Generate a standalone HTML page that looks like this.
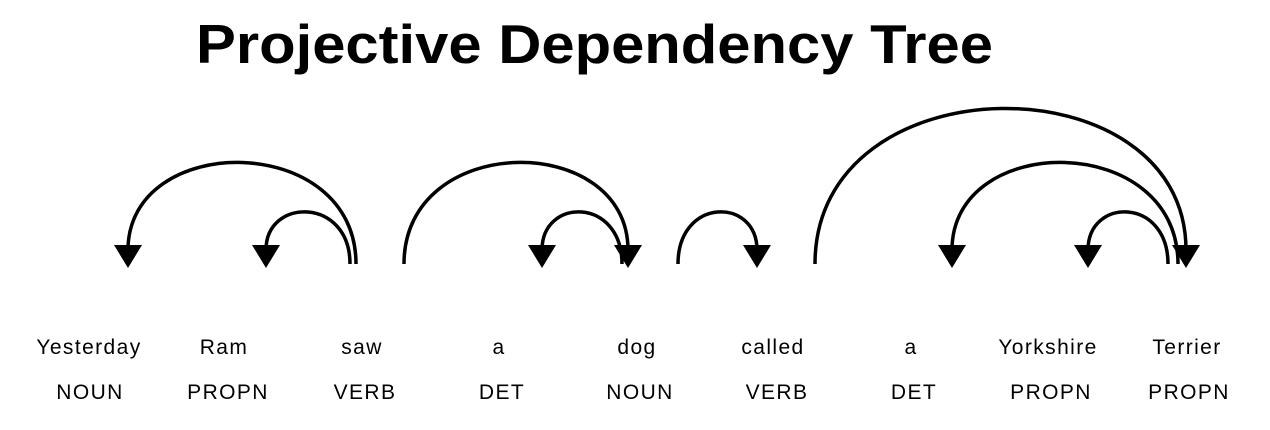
<!DOCTYPE html>
<html><head><style>
html,body{margin:0;padding:0;background:#fff;}
svg{display:block;}
text{font-family:"Liberation Sans",Arial,sans-serif;fill:#000;}
</style></head><body>
<svg width="1270" height="430" viewBox="0 0 1270 430" xmlns="http://www.w3.org/2000/svg">
<text x="196" y="63" font-size="55" font-weight="bold" textLength="797" lengthAdjust="spacingAndGlyphs">Projective Dependency Tree</text>
<g fill="none" stroke="#000" stroke-width="3.5">
<path d="M356,264 C356,131 128,131 128,250"/>
<path d="M350,264 C350,197 266,197 266,250"/>
<path d="M404,264 C404,131 628,131 628,250"/>
<path d="M622,264 C622,197 542,197 542,250"/>
<path d="M678,264 C678,197 757,197 757,250"/>
<path d="M815,264 C815,59 1186,59 1186,250"/>
<path d="M1178,264 C1178,131 952,131 952,250"/>
<path d="M1168,264 C1168,197 1088,197 1088,250"/>
</g>
<g fill="#000">
<polygon points="114,245 142,245 128,268"/>
<polygon points="252,245 280,245 266,268"/>
<polygon points="528,245 556,245 542,268"/>
<polygon points="614,245 642,245 628,268"/>
<polygon points="743,245 771,245 757,268"/>
<polygon points="938,245 966,245 952,268"/>
<polygon points="1074,245 1102,245 1088,268"/>
<polygon points="1172,245 1200,245 1186,268"/>
</g>
<g font-size="21" text-anchor="middle" letter-spacing="1.4">
<text x="89" y="354">Yesterday</text>
<text x="224" y="354">Ram</text>
<text x="362" y="354">saw</text>
<text x="499" y="354">a</text>
<text x="637" y="354">dog</text>
<text x="773" y="354">called</text>
<text x="911" y="354">a</text>
<text x="1048" y="354">Yorkshire</text>
<text x="1187" y="354">Terrier</text>
<text x="90" y="399">NOUN</text>
<text x="228" y="399">PROPN</text>
<text x="365" y="399">VERB</text>
<text x="502" y="399">DET</text>
<text x="640" y="399">NOUN</text>
<text x="777" y="399">VERB</text>
<text x="914" y="399">DET</text>
<text x="1051" y="399">PROPN</text>
<text x="1189" y="399">PROPN</text>
</g>
</svg>
</body></html>
